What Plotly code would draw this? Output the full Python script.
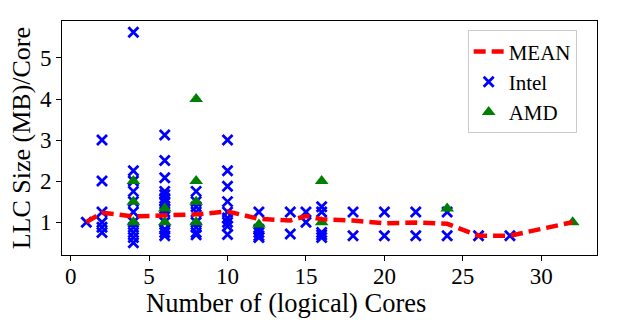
import plotly.graph_objects as go

# Intel CPUs: (logical cores, LLC MB per core)
intel_cores = [1,
               2, 2, 2, 2, 2, 2,
               4, 4, 4, 4, 4, 4, 4, 4, 4, 4, 4,
               6, 6, 6, 6, 6, 6, 6, 6, 6, 6, 6, 6, 6,
               8, 8, 8, 8, 8, 8, 8, 8,
               10, 10, 10, 10, 10, 10, 10, 10, 10,
               12, 12, 12, 12, 12,
               14, 14,
               15, 15,
               16, 16, 16, 16, 16,
               18, 18, 20, 20, 22, 22, 24, 24,
               26, 28]
intel_llc = [1.0,
             3.0, 2.0, 1.25, 1.0, 0.875, 0.75,
             5.625, 2.25, 2.0, 1.75, 1.5, 1.25, 1.0, 0.875, 0.75, 0.625, 0.5,
             3.125, 2.5, 2.08, 1.75, 1.67, 1.58, 1.5, 1.33, 1.25, 1.0, 0.83, 0.75, 0.67,
             1.75, 1.5, 1.375, 1.25, 1.0, 0.875, 0.75, 0.69,
             3.0, 2.25, 1.875, 1.5, 1.25, 1.1, 1.0, 0.9, 0.7,
             1.25, 0.83, 0.75, 0.67, 0.625,
             1.25, 0.71,
             1.25, 1.0,
             1.375, 1.25, 0.75, 0.69, 0.625,
             1.25, 0.67, 1.25, 0.67, 1.25, 0.67, 1.25, 0.67,
             0.67, 0.67]

# AMD CPUs
amd_cores = [4, 4, 4, 6, 6, 8, 8, 8, 8, 12, 16, 16, 24, 32]
amd_llc = [2.0, 1.5, 1.0, 1.33, 1.0, 4.0, 2.0, 1.5, 1.0, 0.94, 2.0, 1.0, 1.33, 1.0]

# mean per core count
mean_cores = [1, 2, 4, 6, 8, 10, 12, 14, 15, 16, 18, 20, 22, 24, 26, 28, 32]
mean_llc = [1.0, 1.23, 1.14, 1.16, 1.19, 1.26, 1.08, 1.04, 1.15, 1.07, 1.04,
            0.97, 0.99, 0.96, 0.67, 0.67, 1.0]

serif = "Liberation Serif"

fig = go.Figure()

fig.add_trace(go.Scatter(
    name="Intel", x=intel_cores, y=intel_llc, mode="markers",
    marker=dict(symbol="x-thin", size=10, line=dict(width=2.8, color="#0000FF")),
    legendrank=2
))
fig.add_trace(go.Scatter(
    name="AMD", x=amd_cores, y=amd_llc, mode="markers",
    marker=dict(symbol="triangle-up", size=12, color="#008000"),
    legendrank=3
))
fig.add_trace(go.Scatter(
    name="MEAN", x=mean_cores, y=mean_llc, mode="lines",
    line=dict(color="#FF0000", width=4.5, dash="12px,6px"),
    legendrank=1
))

axis_common = dict(
    showline=True, linecolor="black", linewidth=1, mirror=True,
    ticks="outside", ticklen=5, tickcolor="black",
    showgrid=False, zeroline=False, automargin=False,
    tickfont=dict(family=serif, size=23, color="black"),
)

# the page body has an 8px margin, so the figure is 8px smaller each way
fig.update_layout(
    width=615, height=313,
    margin=dict(l=54, r=26, t=13, b=66),
    paper_bgcolor="white", plot_bgcolor="white",
    font=dict(family=serif, color="black"),
    xaxis=dict(range=[-0.55, 33.55], tickvals=[0, 5, 10, 15, 20, 25, 30],
               ticklabelstandoff=-5, **axis_common),
    yaxis=dict(range=[0.2, 5.9], tickvals=[1, 2, 3, 4, 5], **axis_common),
    legend=dict(x=0.962, y=0.96, xanchor="right", yanchor="top",
                bordercolor="#cccccc", borderwidth=1, bgcolor="rgba(255,255,255,0.8)",
                font=dict(family=serif, size=21), tracegroupgap=0,
                itemwidth=30),
    showlegend=True,
)

# axis titles placed as annotations to pin their positions
fig.add_annotation(text="Number of (logical) Cores", xref="paper", yref="paper",
                   x=0.419, y=-0.207, xanchor="center", yanchor="middle",
                   showarrow=False, font=dict(family=serif, size=26.5, color="black"))
fig.add_annotation(text="LLC Size (MB)/Core", xref="paper", yref="paper",
                   x=-0.076, y=0.5, xanchor="center", yanchor="middle", textangle=-90,
                   showarrow=False, font=dict(family=serif, size=26, color="black"))

fig.write_html("out.html")
